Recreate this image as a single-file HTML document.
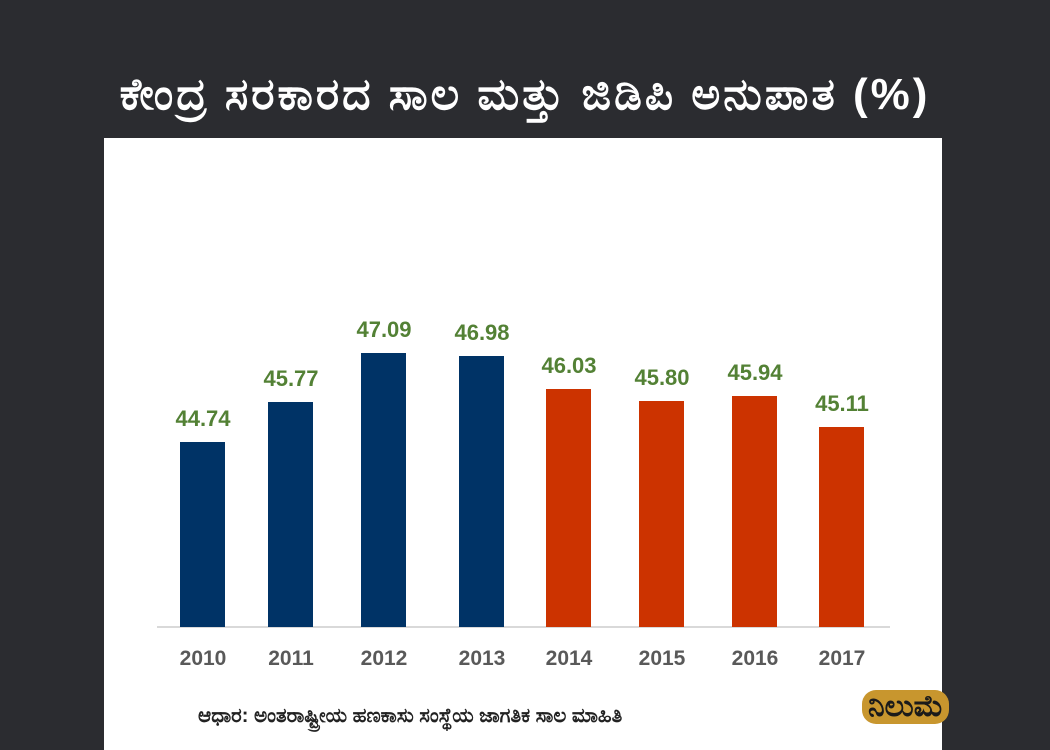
<!DOCTYPE html><html><head><meta charset="utf-8"><style>
body{margin:0;width:1050px;height:750px;background:#2b2c30;position:relative;overflow:hidden;font-family:"Liberation Sans",sans-serif}
.t{position:absolute;top:70px;left:0;width:1050px;text-align:center;color:#fff;font-size:44px;font-weight:bold;letter-spacing:3px;white-space:nowrap}
.p{position:absolute;left:104px;top:138px;width:838px;height:612px;background:#fff}
.b{position:absolute;width:45px}
.v{position:absolute;width:90px;text-align:center;color:#538135;font-weight:bold;font-size:22px}
.y{position:absolute;top:647px;width:90px;text-align:center;color:#595959;font-weight:bold;font-size:21px}
</style></head><body>
<div class="t">ಕೇಂದ್ರ ಸರಕಾರದ ಸಾಲ ಮತ್ತು ಜಿಡಿಪಿ ಅನುಪಾತ (%)</div>
<div class="p"></div>
<div style="position:absolute;left:157px;top:626px;width:733px;height:2px;background:#d9d9d9"></div>
<div id="c"></div>
<div style="position:absolute;left:198px;top:705px;font-size:20px;font-weight:bold;color:#222;white-space:nowrap">ಆಧಾರ: ಅಂತರಾಷ್ಟ್ರೀಯ ಹಣಕಾಸು ಸಂಸ್ಥೆಯ ಜಾಗತಿಕ ಸಾಲ ಮಾಹಿತಿ</div>
<div style="position:absolute;left:862px;top:690px;font-size:30px;font-weight:bold;color:#1a1a1a;background:#c8962e;border-radius:14px;padding:0 6px">ನಿಲುಮೆ</div>
<script>
var d=[[180,442,'44.74','2010',0],[268,402,'45.77','2011',0],[361,353,'47.09','2012',0],[459,356,'46.98','2013',0],[546,389,'46.03','2014',1],[639,401,'45.80','2015',1],[732,396,'45.94','2016',1],[819,427,'45.11','2017',1]];
var h='';d.forEach(function(e){h+='<div class="b" style="left:'+e[0]+'px;top:'+e[1]+'px;height:'+(627-e[1])+'px;background:'+(e[4]?'#cc3300':'#003366')+'"></div><div class="v" style="left:'+(e[0]-22)+'px;top:'+(e[1]-36)+'px">'+e[2]+'</div><div class="y" style="left:'+(e[0]-22)+'px">'+e[3]+'</div>';});
document.getElementById('c').innerHTML=h;
</script>
</body></html>
